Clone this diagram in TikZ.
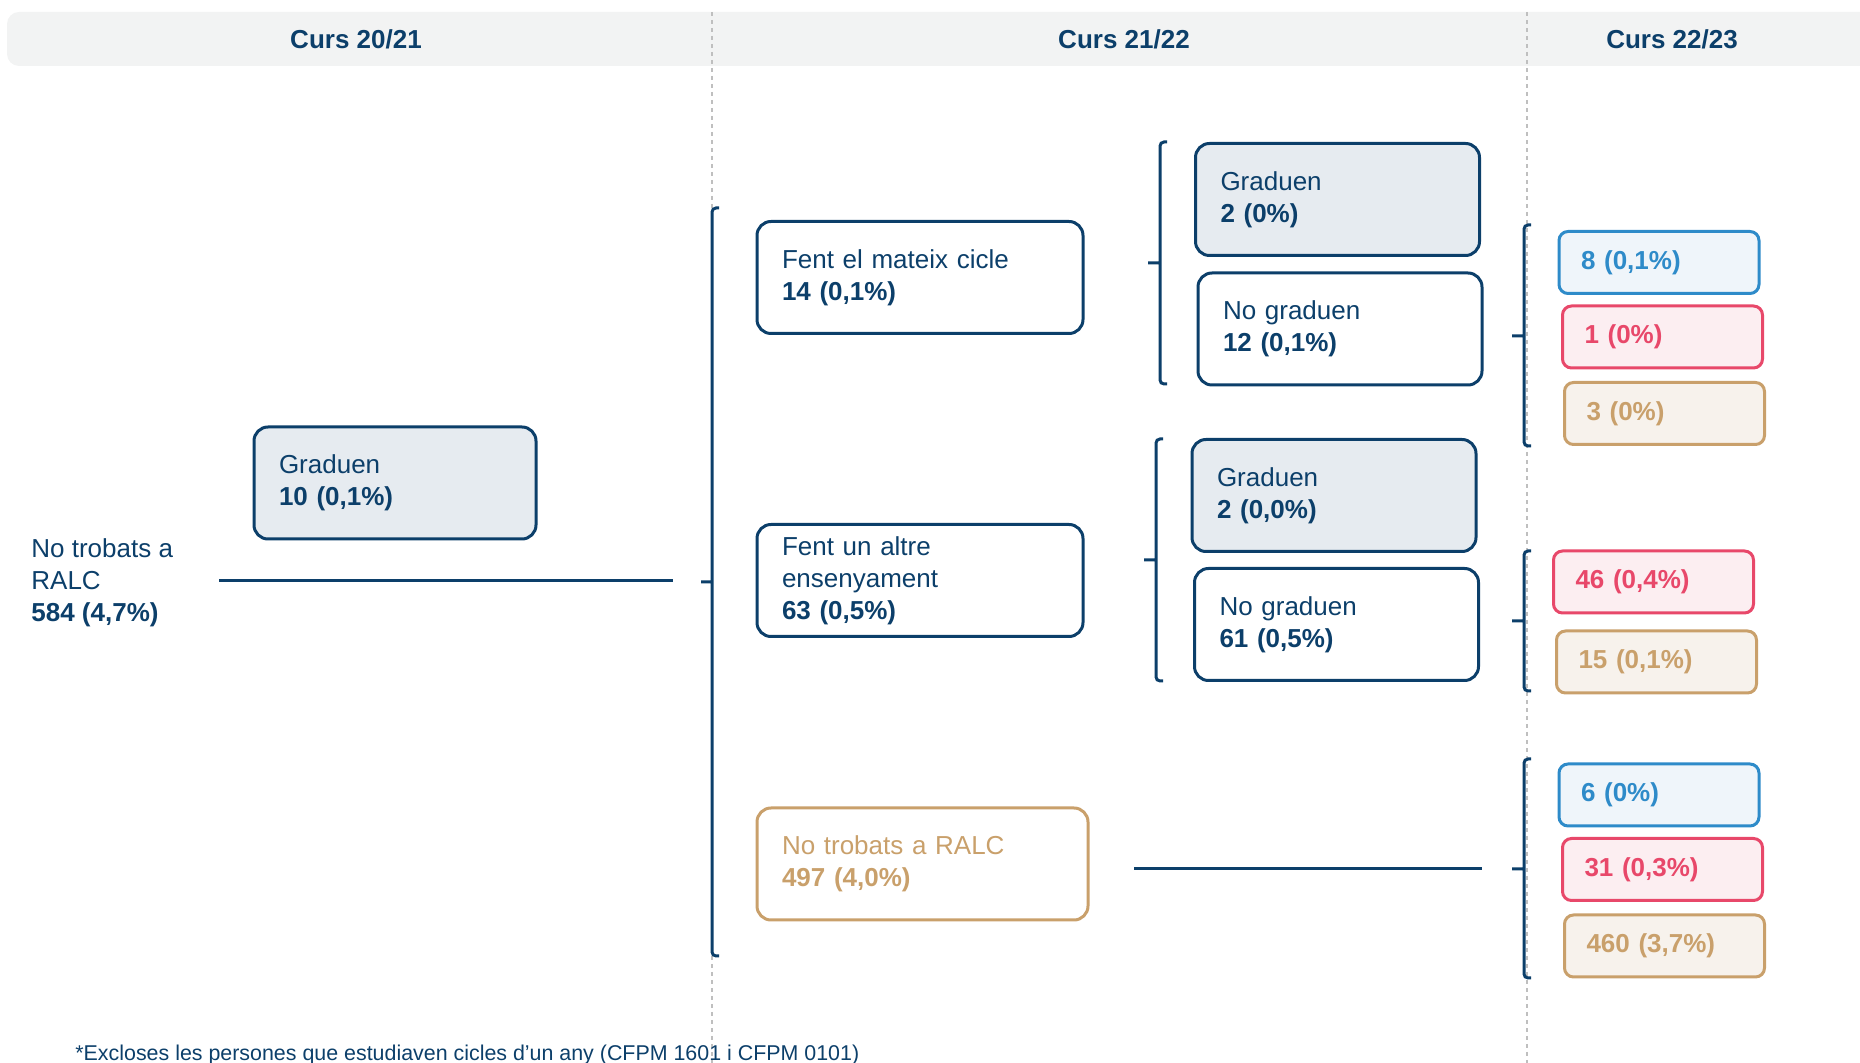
\documentclass[tikz,border=0pt]{standalone}
\usepackage{fontspec}
\setmainfont{Liberation Sans}
\definecolor{navy}{HTML}{0C3F6A}
\definecolor{gradfill}{HTML}{E6EBF0}
\definecolor{headfill}{HTML}{F2F3F3}
\definecolor{tan}{HTML}{C9A06B}
\definecolor{tanfill}{HTML}{F7F2EC}
\definecolor{rose}{HTML}{E8486A}
\definecolor{rosefill}{HTML}{FCEEF1}
\definecolor{sky}{HTML}{2E8BC9}
\definecolor{skyfill}{HTML}{EFF5FA}
\newcommand\fsz{\fontsize{13}{16}\selectfont}
\begin{document}
\begin{tikzpicture}[x=0.5pt,y=-0.5pt,
  box/.style={draw=navy,line width=1.5pt,rounded corners=7pt,inner xsep=12.5pt,inner ysep=0pt,
    minimum height=56pt,align=left,text=navy,font=\fsz},
  wide/.style={box,text width=138pt},
  mid/.style={box,text width=117pt},
  grad/.style={fill=gradfill},
  pill/.style={box,rounded corners=4.5pt,minimum height=31pt,text width=78pt,inner xsep=11pt,font=\fsz\bfseries},
  blue/.style={pill,draw=sky,fill=skyfill,text=sky},
  red/.style={pill,draw=rose,fill=rosefill,text=rose},
  sand/.style={pill,draw=tan,fill=tanfill,text=tan},
  head/.style={text=navy,font=\fontsize{13}{15}\selectfont\bfseries},
  sep/.style={draw=black!25,line width=0.6pt,dash pattern=on 2pt off 2pt},
  brk/.style={draw=navy,line width=1.5pt,rounded corners=2pt},
  link/.style={draw=navy,line width=1.5pt}]
\useasboundingbox(0,0)rectangle(1860,1063);
% header band and column separators
\fill[headfill,rounded corners=6pt](7,12)rectangle(1890,66);
\draw[sep](712,12)--(712,1063)(1527,12)--(1527,1063);
\node[head](c1)at(356,39){Curs 20/21};
\node[head](c2)at(1124,39){Curs 21/22};
\node[head](c3)at(1672,39){Curs 22/23};
% curs 20/21
\node[anchor=west,align=left,text=navy,font=\fsz,inner sep=0pt](ralc)at(31,583)
  {No trobats a\\RALC\\\textbf{584 (4,7\%)}};
\node[mid,grad,text width=116pt](g10)at(395,483){Graduen\\\textbf{10 (0,1\%)}};
\coordinate(l1)at(219,581);\coordinate(b1)at(673,581);
\draw[link](l1)--(b1);
\draw[brk](719,208)--(712,208)--(712,956)--(719,956)(701,582)--(712,582);
% curs 21/22
\node[wide](same)at(920,277.5){Fent el mateix cicle\\\textbf{14 (0,1\%)}};
\node[wide](other)at(920,580.5){Fent un altre\\ensenyament\\\textbf{63 (0,5\%)}};
\node[wide,draw=tan,text=tan,text width=140.5pt](lost)at(922.5,864){No trobats a RALC\\\textbf{497 (4,0\%)}};
\draw[brk](1167,142)--(1160,142)--(1160,384)--(1167,384)(1148,263)--(1160,263);
\node[mid,grad](g2a)at(1337.5,199.5){Graduen\\\textbf{2 (0\%)}};
\node[mid](ng12)at(1340,329){No graduen\\\textbf{12 (0,1\%)}};
\draw[brk](1163,439)--(1156,439)--(1156,681)--(1163,681)(1144,560)--(1156,560);
\node[mid,grad](g2b)at(1334,495.5){Graduen\\\textbf{2 (0,0\%)}};
\node[mid](ng61)at(1336.5,624.5){No graduen\\\textbf{61 (0,5\%)}};
\coordinate(l2)at(1134,869);\coordinate(b2)at(1482,869);
\draw[link](l2)--(b2);
% curs 22/23
\draw[brk](1531,225)--(1524,225)--(1524,446)--(1531,446)(1512,336)--(1524,336);
\node[blue](p8)at(1659,262.5){8 (0,1\%)};
\node[red](p1)at(1662.5,337){1 (0\%)};
\node[sand](p3)at(1664.5,413.5){3 (0\%)};
\draw[brk](1531,551)--(1524,551)--(1524,691)--(1531,691)(1512,621)--(1524,621);
\node[red](p46)at(1653.5,582){46 (0,4\%)};
\node[sand](p15)at(1656.5,662){15 (0,1\%)};
\draw[brk](1531,759)--(1524,759)--(1524,978)--(1531,978)(1512,869)--(1524,869);
\node[blue](p6)at(1659,795){6 (0\%)};
\node[red](p31)at(1662.5,869.5){31 (0,3\%)};
\node[sand](p460)at(1664.5,946){460 (3,7\%)};
\node[anchor=base west,inner sep=0pt,text=navy,font=\fontsize{10.7}{12}\selectfont](note)at(75,1060)
  {*Excloses les persones que estudiaven cicles d’un any (CFPM 1601 i CFPM 0101)};
\end{tikzpicture}
\end{document}
